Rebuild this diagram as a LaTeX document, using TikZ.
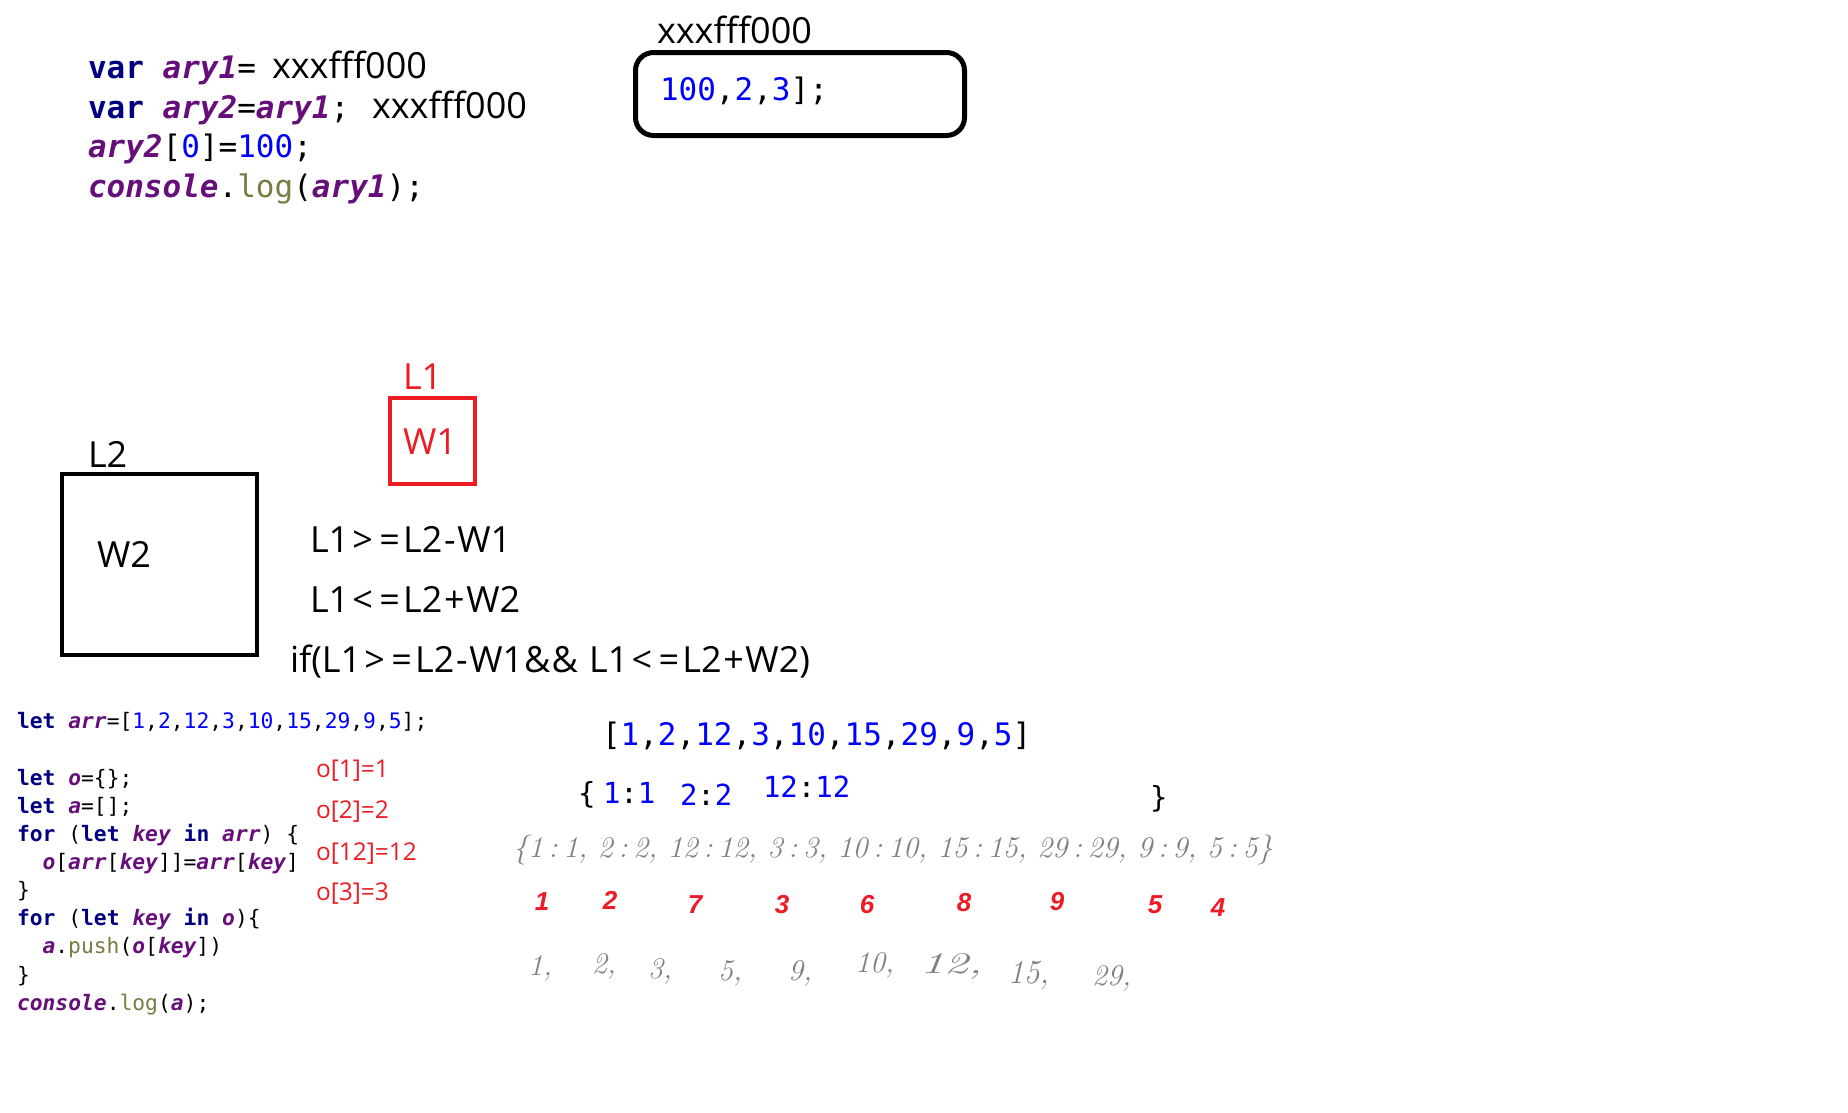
\documentclass[tikz,border=0pt]{standalone}
\usepackage{fontspec}
\usepackage{graphicx}
\setmonofont{DejaVu Sans Mono}
\newfontfamily\ysans{Open Sans}
\newfontfamily\rsans{Liberation Sans}
\definecolor{kwc}{RGB}{0,0,128}
\definecolor{varc}{RGB}{102,14,122}
\definecolor{numc}{RGB}{0,0,255}
\definecolor{fnc}{RGB}{122,122,67}
\definecolor{redc}{RGB}{237,28,36}
\definecolor{greyc}{RGB}{128,128,128}
\newcommand\cKw[1]{{\bfseries\color{kwc}#1}}
\newcommand\cVar[1]{{\bfseries\itshape\color{varc}#1}}
\newcommand\cNum[1]{{\color{numc}#1}}
\newcommand\cFn[1]{{\color{fnc}#1}}
\newcommand\fCodeA{\ttfamily\fontsize{31}{31}\selectfont}
\newcommand\fCodeO{\ttfamily\fontsize{29}{29}\selectfont}
\newcommand\fCodeB{\ttfamily\fontsize{21.3}{21.3}\selectfont}
\newcommand\fSans{\ysans\fontsize{36}{36}\selectfont}
\newcommand\fSansS{\ysans\fontsize{24.5}{24.5}\selectfont}
\newcommand\fRed{\rsans\bfseries\itshape\fontsize{26}{26}\selectfont}
\newcommand\fGrey{\rmfamily\itshape\fontsize{30}{30}\selectfont}
\newcommand\cc{\kern0.19em:\kern0.19em}
\newcommand\sGt{\kern3.2pt>\kern3.2pt}
\newcommand\sLt{\kern3.2pt<\kern3.2pt}
\newcommand\sEq{\kern3.2pt=\kern3.2pt}
\newcommand\sMi{\kern1.6pt-\kern1.6pt}
\newcommand\sPl{\kern1.6pt+\kern1.6pt}
\begin{document}
\begin{tikzpicture}[x=1pt,y=-1pt,
  every node/.style={inner sep=0pt,outer sep=0pt},
  codeA/.style={anchor=base west,font=\fCodeA},
  codeO/.style={anchor=base west,font=\fCodeO},
  codeB/.style={anchor=base west,font=\fCodeB},
  sans/.style={anchor=base west,font=\fSans},
  sansred/.style={anchor=base west,font=\fSansS,text=redc},
  rednum/.style={anchor=center,font=\fRed,text=redc},
  greynum/.style={anchor=base west,font=\fGrey,text=greyc},
  membox/.style={draw,line width=5pt,rounded corners=18pt},
  sqbox/.style={draw,line width=4.5pt}]
\useasboundingbox (0,0) rectangle (1848,1112);
% top-left code
\node[codeA] (c1) at (88,78.5) {\cKw{var} \cVar{ary1}=};
\node[sans] (c1x) at (272,78.5) {xxxfff000};
\node[codeA] (c2) at (88,118) {\cKw{var} \cVar{ary2}=\cVar{ary1};};
\node[sans] (c2x) at (372,118) {xxxfff000};
\node[codeA] (c3) at (88,157.5) {\cVar{ary2}[\cNum{0}]=\cNum{100};};
\node[codeA] (c4) at (88,197) {\cVar{console}.\cFn{log}(\cVar{ary1});};
% memory box
\node[membox,minimum width=329pt,minimum height=83pt,anchor=north west] (mem) at (635.5,52.5) {};
\node[sans] (memlbl) at (657,43) {xxxfff000};
\node[codeA] (memtxt) at (660,100) {\cNum{100},\cNum{2},\cNum{3}];};
% boxes
\node[sqbox,minimum width=195pt,minimum height=181pt,anchor=north west] (b2) at (62,474) {};
\node[sans] (l2) at (88,467) {L2};
\node[sans] (w2) at (97,567) {W2};
\node[sqbox,draw=redc,minimum width=85pt,minimum height=86pt,anchor=north west] (b1) at (390,398) {};
\node[sans,text=redc] (l1) at (403,389) {L1};
\node[sans,text=redc] (w1) at (403,454) {W1};
% formulas
\node[sans] (f1) at (310,552) {L1\sGt\sEq L2\sMi W1};
\node[sans] (f2) at (310,612) {L1\sLt\sEq L2\sPl W2};
\node[sans] (f3) at (290,672) {if(L1\sGt\sEq L2\sMi W1\kern1pt\&\kern1pt\&\kern2pt\ L1\sLt\sEq L2\sPl W2)};
% bottom-left code
\node[codeB] (d1) at (17,728) {\cKw{let} \cVar{arr}=[\cNum{1},\cNum{2},\cNum{12},\cNum{3},\cNum{10},\cNum{15},\cNum{29},\cNum{9},\cNum{5}];};
\node[codeB] (d2) at (17,785) {\cKw{let} \cVar{o}=\{\};};
\node[codeB] (d3) at (17,813) {\cKw{let} \cVar{a}=[];};
\node[codeB] (d4) at (17,841) {\cKw{for} (\cKw{let} \cVar{key} \cKw{in} \cVar{arr}) \{};
\node[codeB] (d5) at (42.6,869) {\cVar{o}[\cVar{arr}[\cVar{key}]]=\cVar{arr}[\cVar{key}]};
\node[codeB] (d6) at (17,897) {\}};
\node[codeB] (d7) at (17,925) {\cKw{for} (\cKw{let} \cVar{key} \cKw{in} \cVar{o})\{};
\node[codeB] (d8) at (42.6,953) {\cVar{a}.\cFn{push}(\cVar{o}[\cVar{key}])};
\node[codeB] (d9) at (17,982) {\}};
\node[codeB] (d10) at (17,1010) {\cVar{console}.\cFn{log}(\cVar{a});};
% red annotations
\node[sansred] (o1) at (316,777) {o[1]=1};
\node[sansred] (o2) at (316,818) {o[2]=2};
\node[sansred] (o3) at (316,860) {o[12]=12};
\node[sansred] (o4) at (316,900) {o[3]=3};
% array and object
\node[codeA] (arr) at (602,745) {[\cNum{1},\cNum{2},\cNum{12},\cNum{3},\cNum{10},\cNum{15},\cNum{29},\cNum{9},\cNum{5}]};
\node[codeO] (ob0) at (578,803) {\{};
\node[codeO] (ob1) at (603,803) {\cNum{1}:\cNum{1}};
\node[codeO] (ob2) at (680,805) {\cNum{2}:\cNum{2}};
\node[codeO] (ob3) at (763,797) {\cNum{12}:\cNum{12}};
\node[codeO] (ob4) at (1150,807) {\}};
% grey object line
\node[greynum] (gobj) at (513,857) {\{1\cc1, 2\cc2, 12\cc12, 3\cc3, 10\cc10, 15\cc15, 29\cc29, 9\cc9, 5\cc5\}};
% red order numbers
\node[rednum] (r1) at (542,902) {1};
\node[rednum] (r2) at (610,900) {2};
\node[rednum] (r7) at (695,905) {7};
\node[rednum] (r3) at (782,905) {3};
\node[rednum] (r6) at (867,905) {6};
\node[rednum] (r8) at (964,903) {8};
\node[rednum] (r9) at (1057,902) {9};
\node[rednum] (r5) at (1155,905) {5};
\node[rednum] (r4) at (1218,908) {4};
% grey sorted numbers
\node[greynum] (g1) at (528,975) {1,};
\node[greynum] (g2) at (592,973) {2,};
\node[greynum] (g3) at (648,978) {3,};
\node[greynum] (g5) at (718,980) {5,};
\node[greynum] (g9) at (788,980) {9,};
\node[greynum] (g10) at (855,972) {10,};
\node[greynum] (g12) at (920,973) {\scalebox{1.6}[1]{12,}};
\node[greynum] (g15) at (1008,983) {\scalebox{1.05}[1.12]{15,}};
\node[greynum] (g29) at (1092,985) {29,};
\end{tikzpicture}
\end{document}
